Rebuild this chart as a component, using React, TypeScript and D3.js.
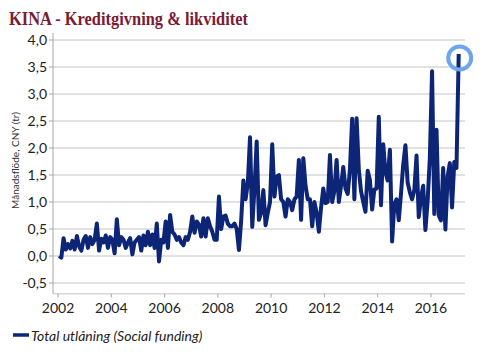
import React from "react";
import * as d3 from "d3";

const startYear = 2002;
const values2002 = [0.0, -0.03, 0.33, 0.12, 0.22, 0.14, 0.28, 0.12, 0.37, 0.18, 0.1, 0.3];
const values2003 = [0.37, 0.15, 0.35, 0.22, 0.3, 0.6, 0.1, 0.32, 0.25, 0.38, 0.15, 0.35];
const values2004 = [0.3, 0.05, 0.68, 0.2, 0.35, 0.3, 0.15, 0.25, 0.33, 0.03, 0.25, 0.3];
const values2005 = [0.35, 0.1, 0.38, 0.2, 0.45, 0.2, 0.4, 0.15, 0.6, -0.1, 0.3, 0.25];
const values2006 = [0.64, 0.15, 0.76, 0.45, 0.4, 0.3, 0.35, 0.25, 0.2, 0.35, 0.3, 0.45];
const values2007 = [0.73, 0.43, 0.64, 0.58, 0.36, 0.7, 0.36, 0.7, 0.55, 0.45, 0.3, 0.3];
const values2008 = [1.1, 0.5, 0.73, 0.75, 0.6, 0.55, 0.55, 0.6, 0.5, 0.11, 0.65, 1.4];
const values2009 = [1.05, 1.35, 2.2, 0.54, 1.25, 2.12, 0.67, 0.8, 1.22, 0.57, 0.8, 1.0];
const values2010 = [2.07, 1.1, 1.47, 1.5, 1.05, 1.0, 0.73, 1.05, 1.0, 0.85, 1.05, 1.1];
const values2011 = [1.78, 0.67, 1.81, 1.3, 1.05, 1.05, 0.55, 1.0, 0.8, 0.45, 0.9, 1.25];
const values2012 = [0.98, 1.0, 1.87, 1.0, 1.2, 1.78, 1.0, 1.3, 1.65, 1.25, 1.15, 1.6];
const values2013 = [2.54, 1.05, 2.55, 1.6, 1.2, 1.0, 0.82, 1.58, 1.41, 0.86, 1.23, 1.25];
const values2014 = [2.58, 0.94, 2.07, 1.55, 1.4, 1.97, 0.27, 0.96, 1.05, 0.66, 1.15, 1.69];
const values2015 = [2.05, 1.36, 1.18, 1.05, 1.22, 1.86, 0.72, 1.08, 1.3, 0.48, 1.02, 1.82];
const values2016 = [3.42, 0.78, 2.34, 0.75, 0.66, 1.63, 0.49, 1.47, 1.72, 0.9, 1.74, 1.63];
const values2017 = [3.74];

const monthly = [
  ...values2002, ...values2003, ...values2004, ...values2005, ...values2006,
  ...values2007, ...values2008, ...values2009, ...values2010, ...values2011,
  ...values2012, ...values2013, ...values2014, ...values2015, ...values2016,
  ...values2017,
];

const yTicks = [-0.5, 0, 0.5, 1, 1.5, 2, 2.5, 3, 3.5, 4];
const xTicks = [2002, 2004, 2006, 2008, 2010, 2012, 2014, 2016];

const title = "KINA - Kreditgivning & likviditet";
const yLabel = "Månadsflöde, CNY (tr)";
const seriesName = "Total utlåning (Social funding)";

export default function App() {
  const W = 488, H = 358;
  const x = d3.scaleLinear().domain([2001.812, 2017.278]).range([53, 465]);
  const y = d3.scaleLinear().domain([-0.7, 4.13]).range([293.8, 33]);
  const pts = monthly.map((v, i) => ({ t: startYear + (i + 0.5) / 12, v }));
  const line = d3.line<{ t: number; v: number }>().x(d => x(d.t)).y(d => y(d.v));
  const last = pts[pts.length - 1];
  const fmt = (v: number) => v.toFixed(1).replace(".", ",");
  const font = "Lato, 'Open Sans', sans-serif";
  return (
    <svg width={W} height={H} style={{ position: "absolute", left: 0, top: 0 }}>
      <rect width={W} height={H} fill="#fff" />
      <text x={9} y={25} fontFamily="'Liberation Serif', serif" fontWeight="bold" fontSize={19}
        fill="#7a1c33" textLength={239} lengthAdjust="spacingAndGlyphs">{title}</text>
      {yTicks.map(t => (
        <g key={t}>
          <line x1={53} x2={465} y1={y(t)} y2={y(t)} stroke="#c4c4c4" strokeWidth={1} />
          <line x1={49} x2={53} y1={y(t)} y2={y(t)} stroke="#a6a6a6" strokeWidth={1} />
          <text x={47} y={y(t)} dy="0.35em" textAnchor="end" fontFamily={font} fontSize={14} fill="#222">{fmt(t)}</text>
        </g>
      ))}
      <line x1={53} x2={53} y1={33} y2={293.8} stroke="#a6a6a6" strokeWidth={1} />
      <line x1={53} x2={465} y1={293.8} y2={293.8} stroke="#c4c4c4" strokeWidth={1} />
      {xTicks.map(t => (
        <g key={t}>
          <line x1={x(t)} x2={x(t)} y1={293.8} y2={297.5} stroke="#a6a6a6" strokeWidth={1} />
          <text x={x(t)} y={313} textAnchor="middle" fontFamily={font} fontSize={14} fill="#222">{t}</text>
        </g>
      ))}
      <text transform={`translate(19,${(y(4) + y(-0.5)) / 2 - 1}) rotate(-90)`} textAnchor="middle"
        fontFamily={font} fontSize={10} fill="#333">{yLabel}</text>
      <path d={line(pts) || ""} fill="none" stroke="#0c2577" strokeWidth={4} strokeLinejoin="round" />
      <circle cx={x(last.t) + 1} cy={y(last.v) + 4} r={11.5} fill="none" stroke="#6ea6ee" strokeWidth={4} />
      <line x1={13} x2={29} y1={335} y2={335} stroke="#0c2577" strokeWidth={3.5} />
      <text x={31} y={341} fontFamily={font} fontStyle="italic" fontSize={14} fill="#222">{seriesName}</text>
    </svg>
  );
}
